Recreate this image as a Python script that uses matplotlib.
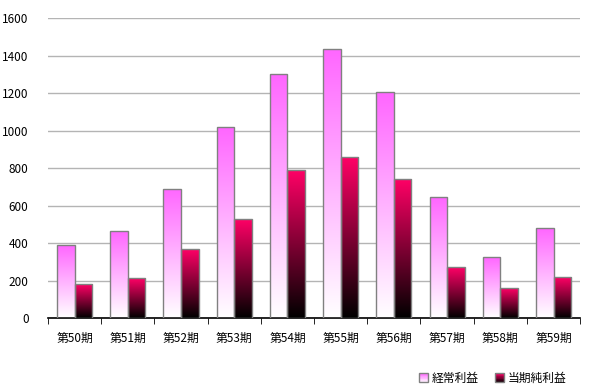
import numpy as np
import matplotlib.pyplot as plt
from matplotlib.colors import LinearSegmentedColormap
from matplotlib.legend_handler import HandlerBase
from matplotlib.patches import Rectangle

plt.rcParams['font.family'] = ['Noto Sans CJK JP', 'DejaVu Sans']

periods = ['第50期', '第51期', '第52期', '第53期', '第54期',
           '第55期', '第56期', '第57期', '第58期', '第59期']
ordinary = [389, 463, 690, 1018, 1300, 1437, 1203, 645, 325, 478]
net = [181, 212, 367, 527, 787, 857, 741, 270, 158, 218]
series_names = ['経常利益', '当期純利益']

pink = LinearSegmentedColormap.from_list('pink', ['#ffffff', '#ff66ff'])
red = LinearSegmentedColormap.from_list('red', ['#000000', '#ff0066'])

fig = plt.figure(figsize=(5.92, 3.89), dpi=100)
ax = fig.add_axes([0.081, 0.1825, 0.899, 0.7712])

x = np.arange(len(periods))
w = 0.33
grad = np.linspace(0, 1, 256).reshape(-1, 1)


def gradient_bars(xs, heights, cmap):
    bars = ax.bar(xs, heights, width=w, facecolor='none',
                  edgecolor='#808080', linewidth=1, zorder=3)
    for b in bars:
        x0, y0 = b.get_x(), b.get_y()
        im = ax.imshow(grad, cmap=cmap, aspect='auto', origin='lower',
                       extent=[x0, x0 + b.get_width(), y0, y0 + b.get_height()],
                       zorder=2)
        im.set_clip_path(b)


gradient_bars(x - w / 2, ordinary, pink)
gradient_bars(x + w / 2, net, red)

ax.set_xlim(-0.5, len(periods) - 0.5)
ax.set_ylim(0, 1600)
ax.set_yticks(range(0, 1601, 200))
ax.yaxis.grid(True, color='#b4b4b4', linewidth=1)
ax.set_axisbelow(True)
ax.set_xticks(x)
ax.set_xticklabels(periods)
ax.set_xticks(np.arange(-0.5, len(periods)), minor=True)
ax.tick_params(axis='x', which='major', length=0, pad=10, labelsize=8.5)
ax.tick_params(axis='x', which='minor', length=4, direction='out', color='black')
ax.tick_params(axis='y', length=0, pad=14, labelsize=8.5)
for s in ['left', 'right', 'top']:
    ax.spines[s].set_visible(False)
ax.spines['bottom'].set_linewidth(1.2)


class GradHandler(HandlerBase):
    def __init__(self, cmap):
        super().__init__()
        self.cmap = cmap

    def create_artists(self, legend, orig, xd, yd, width, height, fontsize, trans):
        s = min(width, height) * 1.1
        x0 = xd + width - s
        y0 = yd + (height - s) / 2
        n = 12
        arts = []
        for i in range(n):
            r = Rectangle((x0, y0 + s * i / n), s, s / n,
                          facecolor=self.cmap((i + 0.5) / n), edgecolor='none',
                          transform=trans)
            arts.append(r)
        arts.append(Rectangle((x0, y0), s, s, facecolor='none',
                              edgecolor='#808080', linewidth=1, transform=trans))
        return arts


h1 = Rectangle((0, 0), 1, 1)
h2 = Rectangle((0, 0), 1, 1)
fig.legend([h1, h2], series_names, loc='lower right',
           bbox_to_anchor=(0.975, -0.017), ncol=2, frameon=False,
           fontsize=8.5, handlelength=0.9, handletextpad=0.3, columnspacing=1.3,
           handler_map={h1: GradHandler(pink), h2: GradHandler(red)})

fig.savefig('out.png', dpi=100)
